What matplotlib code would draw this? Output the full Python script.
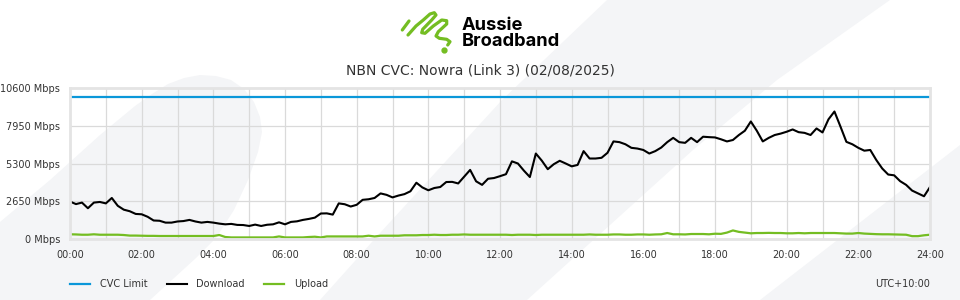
import numpy as np
import matplotlib
matplotlib.use("Agg")
import matplotlib.pyplot as plt
from matplotlib.patches import Polygon

TITLE = "NBN CVC: Nowra (Link 3) (02/08/2025)"
TIMEZONE = "UTC+10:00"

# samples every 10 minutes, 00:00 .. 24:00 (Mbps)
download = [
    2630, 2450, 2556, 2160, 2556, 2600,
    2500, 2880, 2330, 2060, 1950, 1760,
    1735, 1560, 1300, 1280, 1150, 1150,
    1230, 1260, 1340, 1230, 1150, 1200,
    1150, 1080, 1030, 1060, 990, 980,
    915, 1010, 915, 1000, 1030, 1170,
    1030, 1200, 1240, 1340, 1410, 1500,
    1790, 1800, 1712, 2500, 2440, 2280,
    2400, 2750, 2790, 2880, 3200, 3100,
    2920, 3050, 3150, 3350, 3950, 3620,
    3420, 3580, 3650, 4000, 4010, 3900,
    4380, 4850, 4050, 3800, 4230, 4280,
    4410, 4550, 5450, 5300, 4800, 4350,
    6000, 5500, 4900, 5250, 5490, 5300,
    5100, 5200, 6170, 5650, 5650, 5700,
    6050, 6850, 6800, 6650, 6400, 6350,
    6250, 6000, 6170, 6420, 6800, 7100,
    6800, 6750, 7100, 6800, 7180, 7150,
    7130, 7000, 6850, 6950, 7300, 7600,
    8250, 7600, 6850, 7100, 7300, 7400,
    7530, 7690, 7500, 7450, 7300, 7760,
    7480, 8400, 8950, 7900, 6820, 6650,
    6400, 6200, 6250, 5550, 4950, 4525,
    4470, 4060, 3800, 3400, 3200, 3000,
    3650,
]
upload = [
    330, 320, 300, 300, 330, 300,
    300, 300, 300, 280, 240, 240,
    230, 220, 220, 210, 210, 210,
    210, 210, 210, 210, 210, 210,
    210, 280, 140, 110, 110, 110,
    110, 110, 110, 110, 110, 180,
    110, 110, 110, 110, 140, 160,
    110, 180, 180, 180, 180, 180,
    180, 180, 230, 180, 230, 230,
    230, 230, 260, 260, 260, 280,
    280, 300, 280, 280, 300, 300,
    320, 300, 300, 300, 300, 300,
    300, 300, 280, 300, 300, 300,
    280, 300, 300, 300, 300, 300,
    300, 300, 300, 320, 300, 300,
    300, 320, 320, 300, 300, 320,
    320, 300, 320, 330, 420, 330,
    330, 320, 350, 350, 350, 330,
    370, 360, 450, 600, 500, 450,
    400, 420, 420, 430, 420, 420,
    400, 400, 420, 400, 420, 420,
    420, 420, 420, 400, 380, 380,
    420, 380, 360, 340, 330, 330,
    320, 310, 300, 200, 200, 260,
    300,
]
cvc_limit = 10000
y_ticks = [0, 2650, 5300, 7950, 10600]
x_labels = ["00:00", "02:00", "04:00", "06:00", "08:00", "10:00", "12:00",
            "14:00", "16:00", "18:00", "20:00", "22:00", "24:00"]

BLUE = "#0a97d9"
GREEN = "#74bd22"
BG_GREY = "#f4f5f7"
TEXT = "#333333"

minutes = np.arange(len(download)) * 10

fig = plt.figure(figsize=(9.6, 3.0), dpi=100)
fig.patch.set_facecolor("white")

# background decoration, drawn in pixel space
bg = fig.add_axes([0, 0, 1, 1], zorder=0)
bg.set_xlim(0, 960)
bg.set_ylim(300, 0)
bg.axis("off")
swoosh = [(0, 222), (50, 180), (100, 135), (135, 106), (152, 94), (168, 84), (184, 78),
          (200, 75), (216, 76), (231, 80), (244, 89), (254, 102), (260, 117), (262, 132),
          (258, 152), (248, 180), (234, 210), (216, 238), (196, 258), (150, 300), (0, 300)]
band = [(607, 0), (890, 0), (777, 80), (693, 150), (527, 300), (320, 300), (380, 233), (502, 100)]
corner = [(960, 145), (960, 300), (760, 300)]
for pts in (swoosh, band, corner):
    bg.add_patch(Polygon(pts, closed=True, facecolor=BG_GREY, edgecolor="none"))

# logo squiggle
logo_x = [408, 416, 423.3, 430, 434.3, 436, 431.7, 422.7, 421.7, 425, 433.3, 441.7, 446.7,
          446.7, 438.3, 436, 439.3, 446.7, 450, 447.7]
logo_y = [35, 26, 20, 14, 12.7, 15, 20, 29.3, 32.7, 33.3, 26, 20, 20.7,
          24, 31.7, 36, 38.3, 39.3, 41.7, 45]
bg.plot(logo_x, logo_y, color=GREEN, lw=2.3, solid_capstyle="round", solid_joinstyle="round")
bg.plot([402.3, 409], [30, 21], color=GREEN, lw=2.3, solid_capstyle="round")
bg.plot([443.5], [49.5], "o", color=GREEN, ms=3.5)
bg.text(462, 17, "Aussie\nBroadband", fontsize=13.2, fontweight="bold", family="Inter",
        va="top", ha="left", linespacing=0.95, color="black")

fig.text(0.5, 1 - 70.5 / 300, TITLE, ha="center", va="center", fontsize=10, color=TEXT)

ax = fig.add_axes([70 / 960, 1 - 239 / 300, 860 / 960, 151 / 300], zorder=1)
ax.patch.set_alpha(0)
ax.set_xlim(0, 1440)
ax.set_ylim(0, 10600)

l_cvc = ax.axhline(cvc_limit, color=BLUE, lw=1.6, label="CVC Limit")
l_down, = ax.plot(minutes, download, color="black", lw=1.5, label="Download")
l_up, = ax.plot(minutes, upload, color=GREEN, lw=1.6, label="Upload")

ax.set_yticks(y_ticks)
ax.set_yticklabels([f"{v} Mbps" for v in y_ticks])
ax.set_xticks(np.arange(0, 1441, 120))
ax.set_xticks(np.arange(0, 1441, 60), minor=True)
ax.set_xticklabels(x_labels)
ax.tick_params(axis="both", which="both", length=0, labelsize=7, colors=TEXT)
ax.tick_params(axis="y", pad=7)
ax.tick_params(axis="x", pad=8)
ax.grid(True, which="both", color="#dadada", lw=0.9)
ax.set_axisbelow(True)
for side in ax.spines.values():
    side.set_color("#e4e4e4")
    side.set_linewidth(2)

fig.legend(handles=[l_cvc, l_down, l_up], loc="center left",
           bbox_to_anchor=(70 / 960, 1 - 284 / 300), ncol=3, frameon=False,
           fontsize=7, handlelength=2.05, handletextpad=1.0, columnspacing=2.0,
           borderpad=0, borderaxespad=0, labelcolor=TEXT)
fig.text(930 / 960, 1 - 284 / 300, TIMEZONE, ha="right", va="center", fontsize=7, color=TEXT)

fig.savefig("out.png", dpi=100)
